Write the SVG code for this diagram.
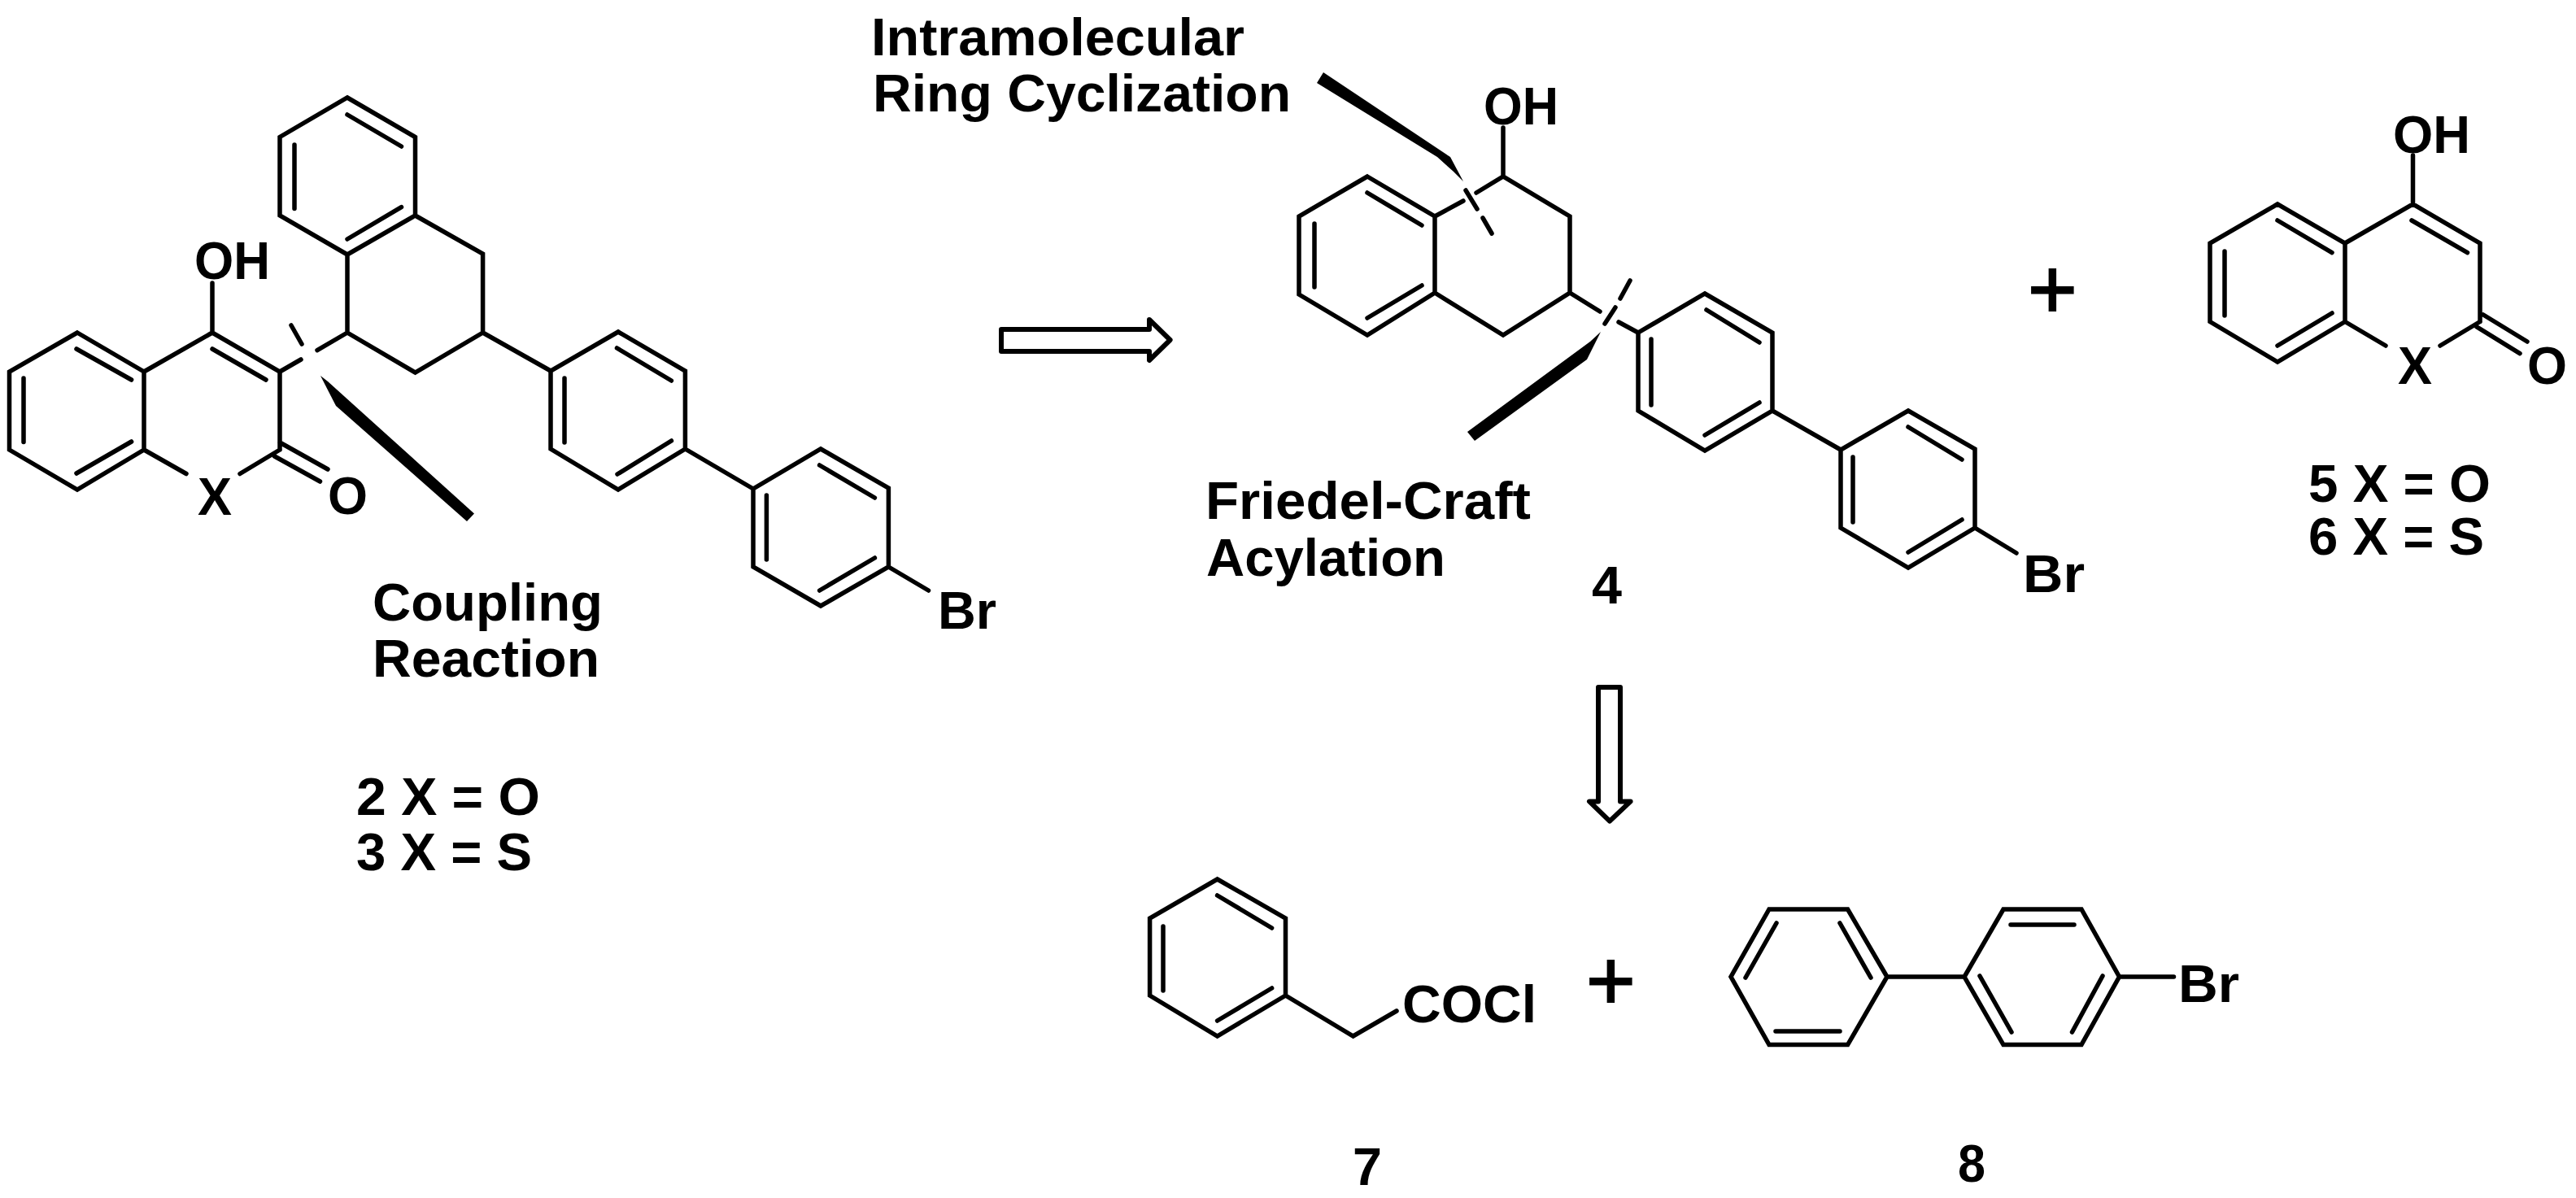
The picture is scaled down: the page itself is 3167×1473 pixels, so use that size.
<svg xmlns="http://www.w3.org/2000/svg" width="3167" height="1473" viewBox="0 0 3167 1473">
<style>
text{font-family:"Liberation Sans",Arial,sans-serif;font-weight:700;font-size:64px;fill:#000}
.plus{font-size:104px;font-weight:400;stroke:#000;stroke-width:2}
.b{fill:none;stroke:#000;stroke-width:5.500;stroke-linejoin:miter;stroke-linecap:round}
.w{fill:#000;stroke:none}
.a{fill:#fff;stroke:#000;stroke-width:6;stroke-linejoin:round}
</style>
<rect width="3167" height="1473" fill="#fff"/>
<g id="compound-2-3">
<path class="b" d="M95 409L177 457V553L95 602L11.500 553V457ZM177 457L261 409L344 457V553M94 429L161.600 467M29 465V543.500M94 582L161.600 543M261 429L327 467M261 409V348M177 553L229 582.500M295 582.500L344 553M344 544L403 577M337.500 561L393.500 592"/>
<path class="b" d="M427 120L510.500 168.500V265L427 313L344 265V168.500ZM427 141L493.500 180M362 178V256.500M427 294L493.500 254.600M510.500 265L593.600 312V409L510.500 458L427 409V313M427 409L390 430.600M344 457L370 442M358 400L371 423M593.600 409L677 456"/>
<path class="b" d="M760 408L842.400 456V552L760 602L677 552V456ZM758.500 428L825.400 468M694 465V544M759 583L825.400 542M842.400 552L926 601M1009 552L1092.400 600V697L1009 745L926 697V601ZM1007.600 572L1075.400 612M942.400 609V688M1007.600 726L1075.400 686M1092.400 697L1141.500 726"/>
<polygon class="w" points="394,462 403,469 583,631.500 574,641 413,499"/>
<text x="239" y="342.500" textLength="93" lengthAdjust="spacingAndGlyphs">OH</text>
<text x="243" y="632.500" textLength="42" lengthAdjust="spacingAndGlyphs">X</text>
<text x="403" y="632" textLength="49" lengthAdjust="spacingAndGlyphs">O</text>
<text x="1153" y="773" textLength="72" lengthAdjust="spacingAndGlyphs">Br</text>
<text x="458" y="763" textLength="283" lengthAdjust="spacingAndGlyphs">Coupling</text>
<text x="458" y="832" textLength="279" lengthAdjust="spacingAndGlyphs">Reaction</text>
<text x="438" y="1002" textLength="226" lengthAdjust="spacingAndGlyphs">2 X = O</text>
<text x="438" y="1070" textLength="216" lengthAdjust="spacingAndGlyphs">3 X = S</text>
</g>
<g id="compound-4">
<path class="b" d="M1681 217L1764 266V360L1681 412L1597 362V266ZM1681 237L1748 277M1616 275V353M1681 391L1748 351M1764 266L1799 247M1815 237L1848 217L1930 266V360L1848 412L1764 360M1848 217V157M1802 234L1816 257M1823 268L1834 287M1930 360L1967 383M2004 345L1992 367M1986 378L1973 398M1990 396L2014 409"/>
<path class="b" d="M2096 361L2179 409V505L2096 554L2014 505V409ZM2098 381L2163 421M2030 417V498M2096 535L2163 495M2179 505L2263 553M2346 505L2428 552V649L2346 698L2263 649V553ZM2346 525L2412 565M2278 562V642M2346 679L2412 639M2428 649L2479 680"/>
<polygon class="w" points="1627,89 1783,193 1799,223 1787,211 1767,193 1619,102"/>
<polygon class="w" points="1968,408 1951,442 1813,542 1804,531 1955,420"/>
<text x="1824" y="153" textLength="92" lengthAdjust="spacingAndGlyphs">OH</text>
<text x="2487" y="728" textLength="76" lengthAdjust="spacingAndGlyphs">Br</text>
<text x="1071" y="68" textLength="459" lengthAdjust="spacingAndGlyphs">Intramolecular</text>
<text x="1073" y="137" textLength="514" lengthAdjust="spacingAndGlyphs">Ring Cyclization</text>
<text x="1482" y="638" textLength="400" lengthAdjust="spacingAndGlyphs">Friedel-Craft</text>
<text x="1483" y="708" textLength="294" lengthAdjust="spacingAndGlyphs">Acylation</text>
<text x="1957" y="742" textLength="37" lengthAdjust="spacingAndGlyphs">4</text>
</g>
<g id="compound-5-6">
<path class="b" d="M2800 251L2883 299V395.500L2800 445L2717 395.500V299ZM2883 299L2966.500 251L3049 299V395.500M2800 271L2867 310.600M2735 309V388M2800 425L2867 385M2965 271L3033.500 310.600M2966.500 251V191M2883 395.500L2933 425M3000 425L3049 395.500M3053 387L3107 420M3045 402L3098 434.600"/>
<text x="2942" y="188" textLength="95" lengthAdjust="spacingAndGlyphs">OH</text>
<text x="2948" y="472" textLength="42" lengthAdjust="spacingAndGlyphs">X</text>
<text x="3107" y="472" textLength="49" lengthAdjust="spacingAndGlyphs">O</text>
<text x="2838" y="617" textLength="224" lengthAdjust="spacingAndGlyphs">5 X = O</text>
<text x="2838" y="682" textLength="216" lengthAdjust="spacingAndGlyphs">6 X = S</text>
</g>
<g id="plus-1"><text class="plus" x="2493" y="391">+</text></g>
<g id="compound-7">
<path class="b" d="M1496.600 1081L1580.500 1129V1224L1496.600 1274L1413.600 1224V1129ZM1496.600 1101L1563.600 1141M1430 1139V1218M1496.600 1255L1563.600 1215M1580.500 1224L1663.600 1274L1717 1243"/>
<text x="1724" y="1257" textLength="165" lengthAdjust="spacingAndGlyphs">COCl</text>
<text x="1663" y="1457" textLength="36" lengthAdjust="spacingAndGlyphs">7</text>
</g>
<g id="plus-2"><text class="plus" x="1950" y="1241">+</text></g>
<g id="compound-8">
<path class="b" d="M2175 1118H2271.600L2320 1201L2271.600 1284.600H2175L2128 1201ZM2184 1135L2146 1202M2262 1135L2300 1202M2183 1268H2262M2320 1201H2415M2463 1118H2559L2605.500 1201L2559 1284.600H2463L2415 1201ZM2472 1137H2550M2434 1200L2473 1269M2585 1200L2547.500 1269M2605.500 1201H2672.500"/>
<text x="2678" y="1232" textLength="75" lengthAdjust="spacingAndGlyphs">Br</text>
<text x="2407" y="1453" textLength="34" lengthAdjust="spacingAndGlyphs">8</text>
</g>
<g id="connectors">
<path class="a" d="M1231 405H1413V393L1438.600 418L1413 443V432H1231Z"/>
<path class="a" d="M1965 845H1992V985.400H2004.600L1979 1009.600L1954 985.400H1965Z"/>
</g>
</svg>
